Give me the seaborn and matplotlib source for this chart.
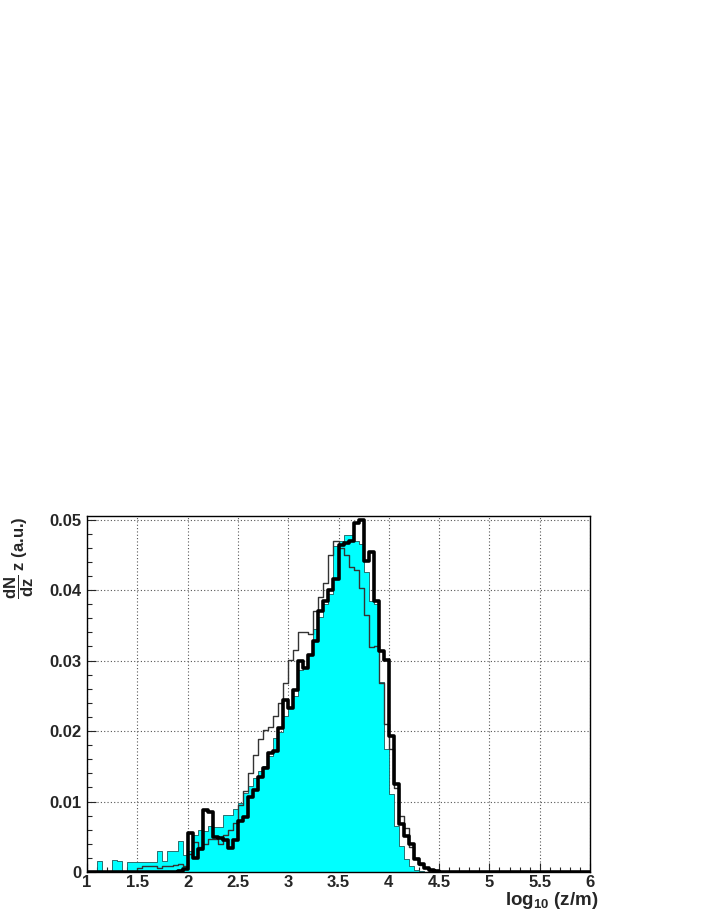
import numpy as np
import pandas as pd
import matplotlib
matplotlib.use("Agg")
import matplotlib.pyplot as plt
import seaborn as sns
from matplotlib.ticker import MultipleLocator

# bins: 100 bins of width 0.05 from log10(z/m) = 1 to 6
bin_edges = list(np.round(np.linspace(1.0, 6.0, 101), 3))

# filled (cyan) histogram
cyan_vals = [
    0, 0, 0.0016, 0, 0, 0.0017, 0.0015, 0, 0.0014, 0.0014,
    0.0014, 0.0014, 0.0014, 0.0014, 0.0030, 0.0016, 0.0030, 0.0030, 0.0044, 0.0024,
    0.0030, 0.0052, 0.0060, 0.0058, 0.0065, 0.0064, 0.0064, 0.0081, 0.0081, 0.0090,
    0.0098, 0.0112, 0.0122, 0.0133, 0.0143, 0.0150, 0.0165, 0.0190, 0.0198, 0.0222,
    0.0232, 0.0250, 0.0287, 0.0290, 0.0308, 0.0345, 0.0362, 0.0380, 0.0395, 0.0462,
    0.0470, 0.0478, 0.0478, 0.0470, 0.0465, 0.0425, 0.0385, 0.0380, 0.0270, 0.0175,
    0.0110, 0.0065, 0.0037, 0.0018, 0.0008, 0.0003, 0.0001, 0, 0, 0,
] + [0] * 30

# thin line histogram
thin_vals = [
    0, 0, 0, 0, 0, 0, 0, 0, 0, 0,
    0.0005, 0.0008, 0.0008, 0.0008, 0.0006, 0.0008, 0.0008, 0.0010, 0.0012, 0.0008,
    0.0025, 0.0043, 0.0035, 0.0040, 0.0047, 0.0047, 0.0040, 0.0052, 0.0060, 0.0070,
    0.0095, 0.0115, 0.0140, 0.0166, 0.0188, 0.0202, 0.0206, 0.0221, 0.0240, 0.0268,
    0.0301, 0.0315, 0.0341, 0.0341, 0.0337, 0.0370, 0.0390, 0.0410, 0.0449, 0.0470,
    0.0460, 0.0450, 0.0433, 0.0428, 0.0403, 0.0364, 0.0319, 0.0320, 0.0268, 0.0210,
    0.0175, 0.0119, 0.0080, 0.0062, 0.0035, 0.0020, 0.0010, 0.0005, 0.0002, 0.0001,
] + [0] * 30

# thick line histogram
thick_vals = [
    0, 0, 0, 0, 0, 0, 0, 0, 0, 0,
    0, 0, 0, 0, 0, 0, 0, 0, 0.0002, 0.0004,
    0.0055, 0.0020, 0.0032, 0.0088, 0.0085, 0.0050, 0.0048, 0.0046, 0.0034, 0.0045,
    0.0072, 0.0078, 0.0107, 0.0117, 0.0135, 0.0147, 0.0169, 0.0172, 0.0204, 0.0244,
    0.0232, 0.0258, 0.0299, 0.0290, 0.0308, 0.0327, 0.0370, 0.0385, 0.0400, 0.0415,
    0.0464, 0.0466, 0.0470, 0.0495, 0.0500, 0.0441, 0.0454, 0.0384, 0.0314, 0.0301,
    0.0193, 0.0125, 0.0068, 0.0051, 0.0040, 0.0018, 0.0011, 0.0006, 0.0003, 0.0001,
] + [0] * 30

x_ticks = [1, 1.5, 2, 2.5, 3, 3.5, 4, 4.5, 5, 5.5, 6]
x_ticklabels = ["1", "1.5", "2", "2.5", "3", "3.5", "4", "4.5", "5", "5.5", "6"]
y_ticks = [0, 0.01, 0.02, 0.03, 0.04, 0.05]
y_ticklabels = ["0", "0.01", "0.02", "0.03", "0.04", "0.05"]

sns.set_style("white")
plt.rcParams["font.family"] = ["Liberation Sans", "DejaVu Sans"]
plt.rcParams["font.weight"] = "bold"
plt.rcParams["mathtext.fontset"] = "custom"
plt.rcParams["mathtext.rm"] = "Liberation Sans:bold"
plt.rcParams["mathtext.it"] = "Liberation Sans:bold"
plt.rcParams["mathtext.bf"] = "Liberation Sans:bold"
plt.rcParams["mathtext.default"] = "rm"

df = pd.DataFrame({
    "x": [round(e + 0.025, 3) for e in bin_edges[:-1]],
    "cyan": cyan_vals,
    "thin": thin_vals,
    "thick": thick_vals,
})

fig = plt.figure(figsize=(7.08, 9.17), dpi=100)
ax = fig.add_axes([87 / 708, 45 / 917, 503 / 708, 356 / 917])

sns.histplot(data=df, x="x", weights="cyan", bins=bin_edges, element="step", fill=True,
             color="#00ffff", alpha=1.0, edgecolor="#1a5a5a", linewidth=0.6, ax=ax)
sns.histplot(data=df, x="x", weights="thin", bins=bin_edges, element="step", fill=False,
             color="#333333", linewidth=1.0, ax=ax)
sns.histplot(data=df, x="x", weights="thick", bins=bin_edges, element="step", fill=False,
             color="black", linewidth=2.6, ax=ax)

ax.set_xlim(1, 6)
ax.set_ylim(0, 0.0505)
ax.set_xticks(x_ticks)
ax.set_xticklabels(x_ticklabels)
ax.set_yticks(y_ticks)
ax.set_yticklabels(y_ticklabels)
ax.xaxis.set_minor_locator(MultipleLocator(0.1))
ax.yaxis.set_minor_locator(MultipleLocator(0.002))
ax.tick_params(which="both", direction="in", bottom=True, left=True, top=False, right=False)
ax.tick_params(which="major", length=6.5, width=0.8, labelsize=12)
ax.tick_params(axis="x", which="major", pad=2)
ax.tick_params(axis="y", which="major", pad=4)
ax.tick_params(which="minor", length=3.5, width=0.8)
for lab in ax.get_xticklabels() + ax.get_yticklabels():
    lab.set_fontweight("bold")

ax.set_axisbelow(True)
ax.grid(True, which="major", color="#555555", linestyle=(0, (1, 2)), linewidth=0.8)
for s in ax.spines.values():
    s.set_color("black")
    s.set_linewidth(1.0)

ax.set_xlabel(r"log$_{10}$ (z/m)", fontsize=13.5, fontweight="bold", loc="right")
ax.set_ylabel(r"$\dfrac{dN}{dz}$ z (a.u.)", fontsize=12, fontweight="bold", loc="top")
ax.xaxis.set_label_coords(1.016, -0.05)
ax.yaxis.set_label_coords(-0.102, 1.0)

fig.savefig("out.png", dpi=100)
